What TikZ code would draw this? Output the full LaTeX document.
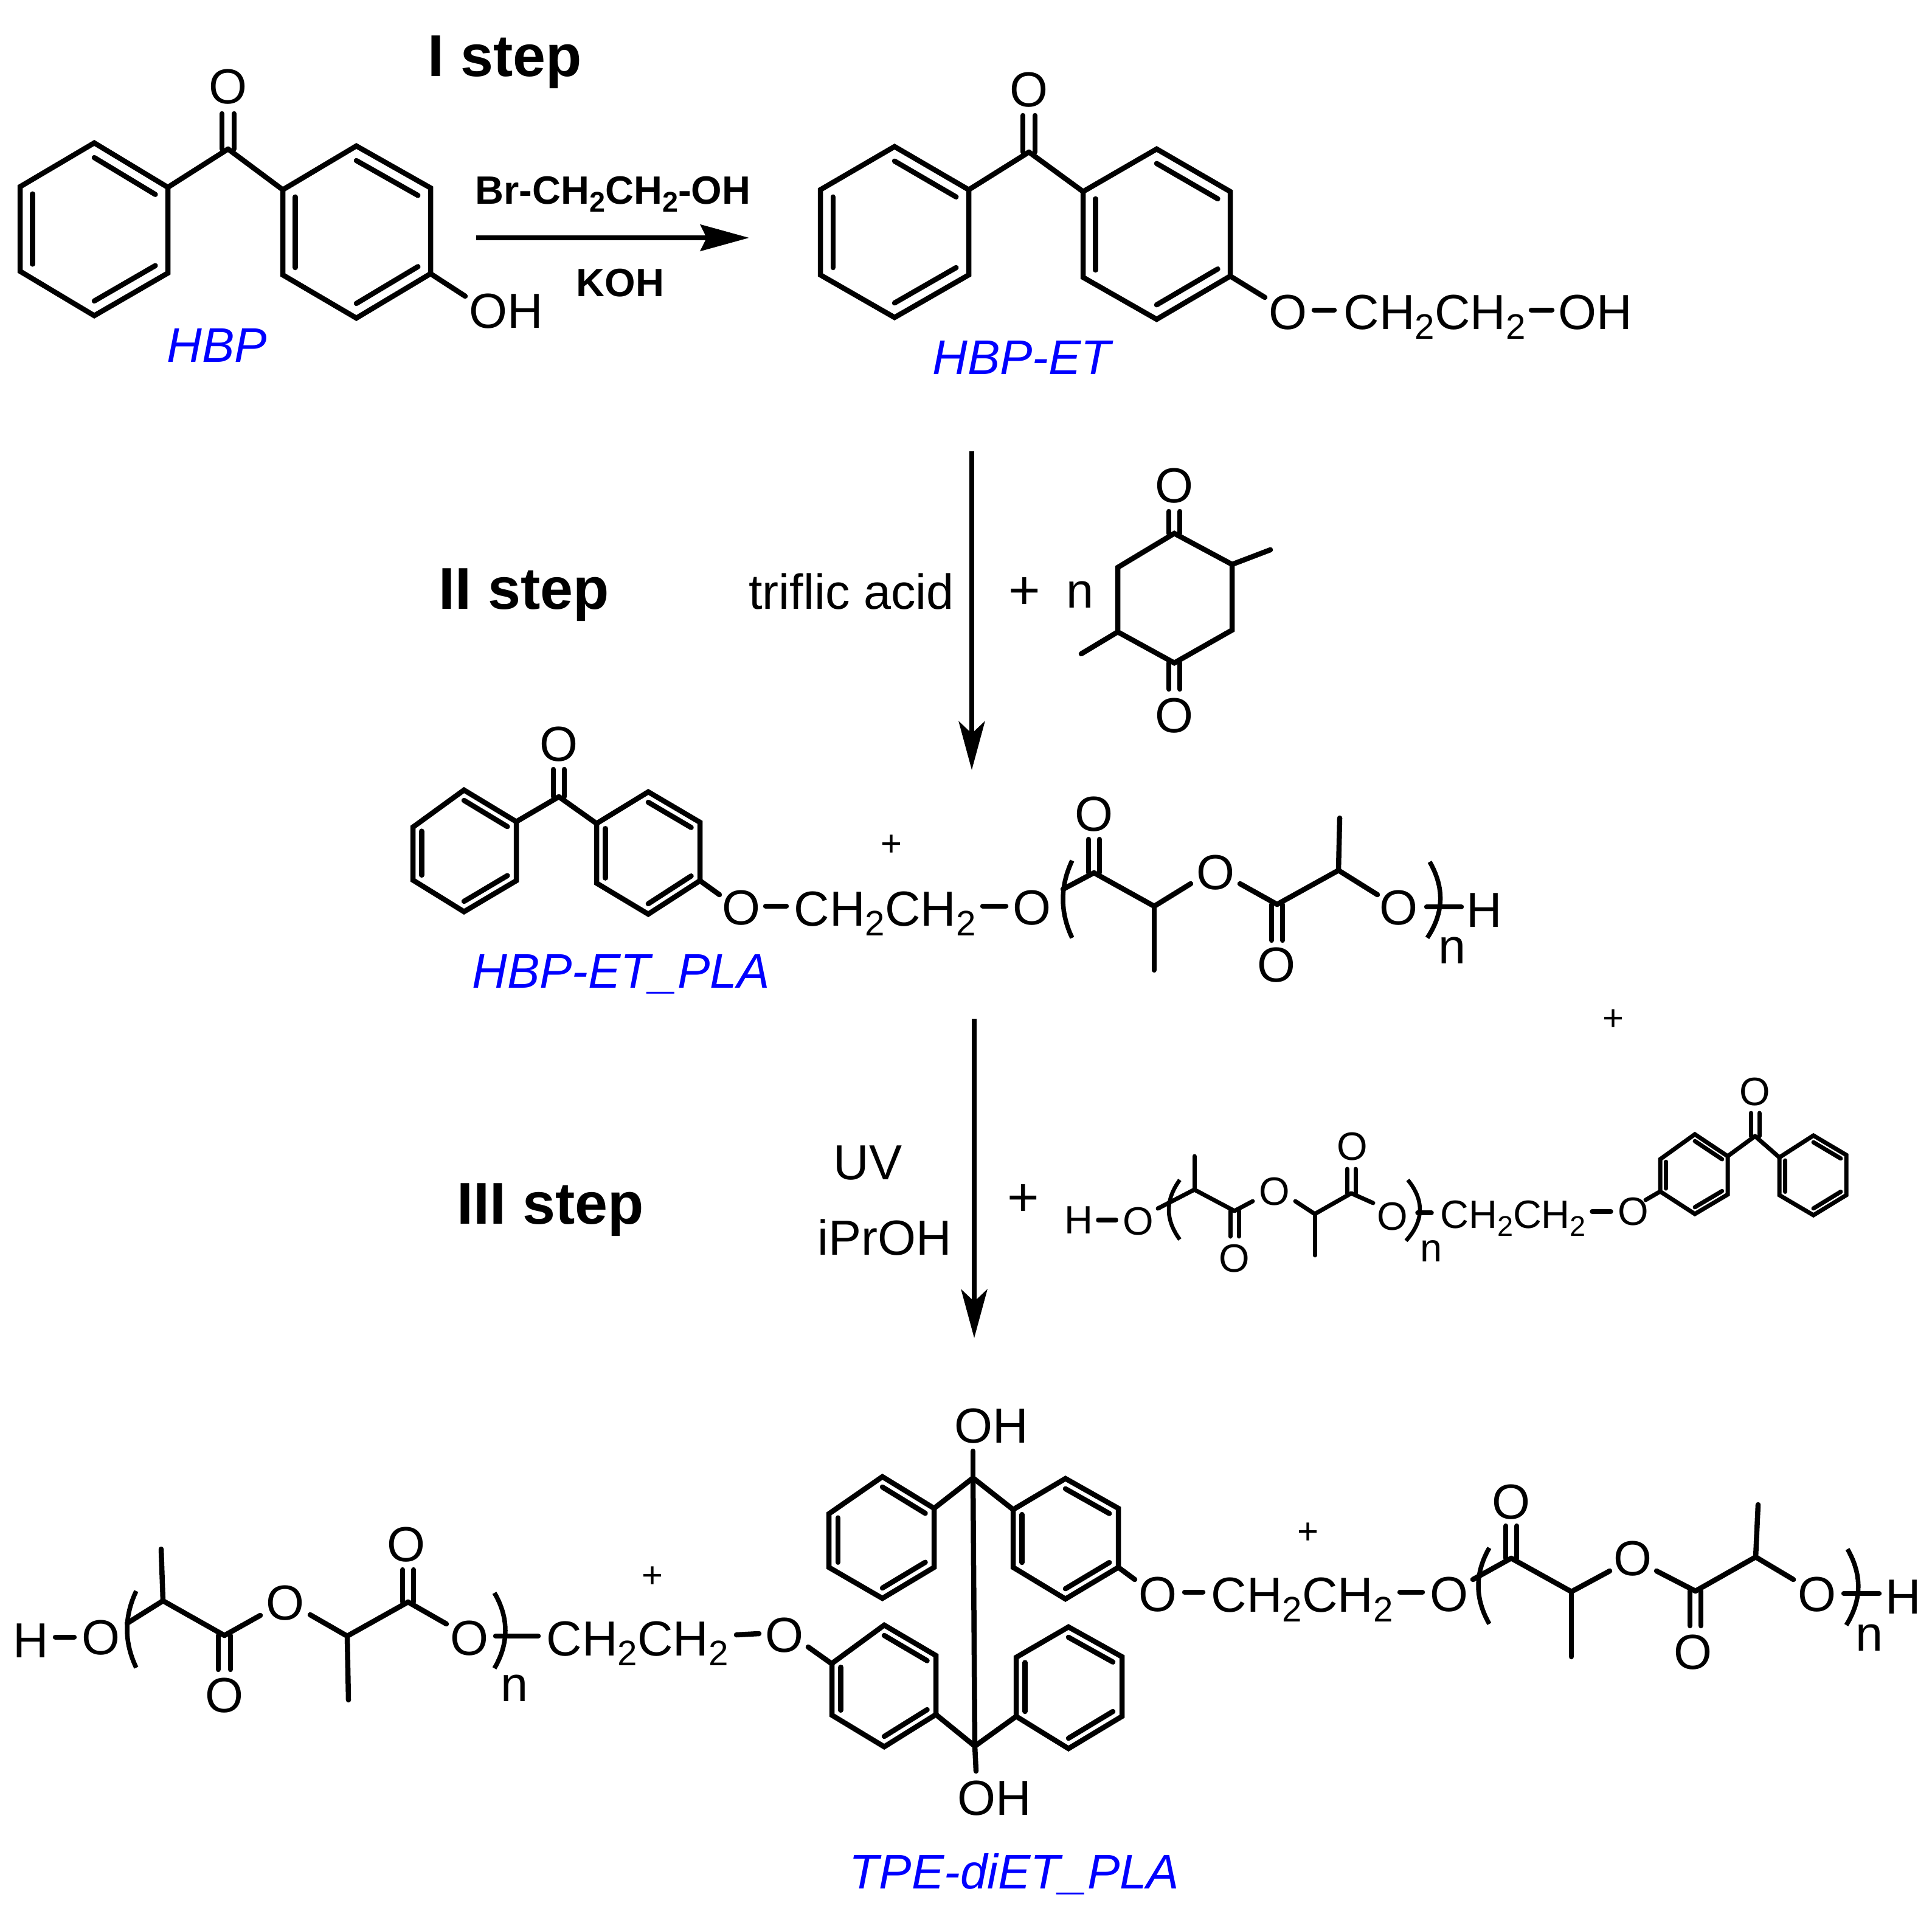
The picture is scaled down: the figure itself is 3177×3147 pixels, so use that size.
\documentclass[tikz,border=0pt]{standalone}
\usepackage{fontspec}
\setmainfont{Liberation Sans}
\usetikzlibrary{calc,arrows.meta}
\newcommand\subtwo{\raisebox{-.2em}{\scalebox{.72}{2}}}
\def\rk{.17}
% six ring vertices, double bonds on sides 1-2, 3-4, 5-6
\newcommand\benz[6]{%
  \coordinate (ra) at (#1); \coordinate (rb) at (#2); \coordinate (rc) at (#3);
  \coordinate (rd) at (#4); \coordinate (re) at (#5); \coordinate (rf) at (#6);
  \coordinate (rm) at ($(ra)!.5!(rd)$);
  \draw[ringbond] (ra)--(rb)--(rc)--(rd)--(re)--(rf)--cycle;
  \draw[bond] ($(ra)!\rk!(rm)$)--($(rb)!\rk!(rm)$);
  \draw[bond] ($(rc)!\rk!(rm)$)--($(rd)!\rk!(rm)$);
  \draw[bond] ($(re)!\rk!(rm)$)--($(rf)!\rk!(rm)$);
}
% double bond: ends #1 and #2, half spacing #3 in x
\newcommand\dbv[3]{%
  \draw[bond] ($(#1)+(-#3,0)$)--($(#2)+(-#3,0)$);
  \draw[bond] ($(#1)+(#3,0)$)--($(#2)+(#3,0)$);
}
\tikzset{
  bond/.style={line width=8.5pt,line cap=round,line join=round},
  ringbond/.style={bond,line join=miter},
  dashb/.style={line width=8.5pt,line cap=round},
  paren/.style={line width=7.5pt,line cap=butt},
  txt/.style={inner sep=0pt,font=\fontsize{81}{81}\selectfont},
  stxt/.style={inner sep=0pt,font=\fontsize{65}{65}\selectfont},
  basetxt/.style={txt,anchor=base},
  sbasetxt/.style={stxt,anchor=base},
  steplabel/.style={inner sep=0pt,anchor=base,font=\fontsize{97}{97}\selectfont\bfseries},
  reagent/.style={inner sep=0pt,anchor=base,font=\fontsize{65}{65}\selectfont\bfseries},
  cmpd/.style={inner sep=0pt,anchor=base,text={rgb,255:red,0;green,0;blue,255},font=\fontsize{80}{80}\selectfont\itshape},
  plusbig/.style={inner sep=0pt,font=\fontsize{90}{90}\selectfont},
  plussmall/.style={inner sep=0pt,font=\fontsize{60}{60}\selectfont},
  rxndown/.style={line width=7.5pt,-{Stealth[length=80pt,width=43pt,inset=20pt]}},
  rxnright/.style={line width=8.5pt,-{Stealth[length=80pt,width=43pt,inset=10pt]}},
}
\begin{document}
\begin{tikzpicture}[x=1pt,y=-1pt]
\useasboundingbox (0,0) rectangle (3177,3147);
\fill[white] (0,0) rectangle (3177,3147);

% ---- labels ----
\node[steplabel] (s1) at (830,126) {I step};
\node[steplabel] (s2) at (862,1001) {II step};
\node[steplabel] (s3) at (905,2012) {III step};

% ---- HBP ----
\benz{155,235}{276,308}{276,449}{155,519}{33,446}{33,307}
\benz{586,240}{708,309}{708,450}{586,523}{465,452}{465,312}
\draw[bond] (276,308)--(375,245)--(465,312);
\dbv{375,245}{375,187}{10}
\node[txt] (o1) at (375,143) {O};
\draw[bond] (708,450)--(765,487);
\node[txt] (oh1) at (832,512) {OH};
\node[cmpd] (hbp) at (357,595) {HBP};

% ---- step I arrow ----
\node[reagent] (brc) at (1008,335) {Br-CH\subtwo CH\subtwo-OH};
\coordinate (a1s) at (783,391);
\coordinate (a1e) at (1232,391);
\draw[rxnright] (a1s)--(a1e);
\node[reagent] (koh) at (1020,487) {KOH};

% ---- HBP-ET ----
\benz{1471,241}{1593,312}{1593,452}{1471,522}{1349,452}{1349,312}
\benz{1902,245}{2023,315}{2023,454}{1902,525}{1781,456}{1781,315}
\draw[bond] (1593,312)--(1692,250)--(1781,315);
\dbv{1692,250}{1692,190}{10}
\node[txt] (o2) at (1692,148) {O};
\draw[bond] (2023,454)--(2080,489);
\node[txt] (o2b) at (2118,514) {O};
\draw[dashb] (2161,510)--(2194,510);
\node[basetxt] (c2) at (2359,541) {CH\subtwo CH\subtwo};
\draw[dashb] (2518,510)--(2552,510);
\node[basetxt] (oh2) at (2623,541) {OH};
\node[cmpd] (hbpet) at (1680,615) {HBP-ET};

% ---- step II ----
\coordinate (a2s) at (1598,742);
\coordinate (a2e) at (1598,1266);
\draw[rxndown] (a2s)--(a2e);
\node[basetxt] (tfa) at (1400,1001) {triflic acid};
\node[plusbig] (p2) at (1685,976) {+};
\node[basetxt] (n2) at (1776,999) {n};
\draw[ringbond] (1931,877)--(2026,928)--(2026,1036)--(1931,1090)--(1838,1039)--(1838,933)--cycle;
\draw[bond] (2026,928)--(2089,904);
\draw[bond] (1838,1039)--(1778,1075);
\dbv{1931,877}{1931,841}{9}
\dbv{1931,1090}{1931,1133}{9}
\node[txt] (o3a) at (1931,799) {O};
\node[txt] (o3b) at (1931,1177) {O};

% ---- HBP-ET_PLA ----
\benz{763,1299}{849,1351}{849,1448}{763,1499}{679,1447}{679,1360}
\benz{1066,1302}{1151,1352}{1151,1448}{1066,1503}{981,1452}{981,1354}
\draw[bond] (849,1351)--(919,1310)--(981,1354);
\dbv{919,1310}{919,1265}{9}
\node[txt] (o4) at (919,1224) {O};
\draw[bond] (1151,1448)--(1183,1471);
\node[txt] (o4b) at (1219,1493) {O};
\draw[dashb] (1259,1490)--(1293,1490);
\node[basetxt] (c4) at (1455,1522) {CH\subtwo CH\subtwo};
\node[plussmall] (p4) at (1466,1390) {+};
\draw[dashb] (1616,1490)--(1654,1490);
\node[txt] (o4c) at (1697,1493) {O};
\draw[paren] (1763,1415) .. controls (1743,1457) and (1743,1500) .. (1763,1542);
\draw[bond] (1748,1462)--(1799,1435)--(1898,1490)--(1958,1453);
\dbv{1799,1435}{1799,1380}{9}
\node[txt] (o4d) at (1799,1339) {O};
\draw[bond] (1898,1490)--(1898,1595);
\node[txt] (o4e) at (1999,1435) {O};
\draw[bond] (2039,1453)--(2100,1487)--(2201,1431)--(2265,1471);
\dbv{2100,1487}{2100,1546}{9}
\node[txt] (o4f) at (2099,1587) {O};
\draw[bond] (2201,1431)--(2203,1345);
\node[txt] (o4g) at (2300,1493) {O};
\draw[paren] (2351,1417) .. controls (2375,1459) and (2375,1500) .. (2347,1542);
\draw[dashb] (2346,1491)--(2403,1491);
\node[basetxt] (h4) at (2441,1524) {H};
\node[basetxt] (n4) at (2388,1584) {n};
\node[cmpd] (hbpetpla) at (1021,1624) {HBP-ET\_PLA};

% ---- step III ----
\coordinate (a3s) at (1602,1675);
\coordinate (a3e) at (1602,2200);
\draw[rxndown] (a3s)--(a3e);
\node[basetxt] (uv) at (1427,1939) {UV};
\node[basetxt] (ipr) at (1455,2063) {iPrOH};
\node[plusbig] (p3) at (1683,1974) {+};
\node[plussmall] (p5) at (2653,1677) {+};

% ---- side product ----
\begin{scope}[bond/.append style={line width=7pt},dashb/.append style={line width=7.5pt},paren/.append style={line width=6.5pt}]
\node[sbasetxt] (h5) at (1774,2028) {H};
\draw[dashb] (1806,2006)--(1835,2006);
\node[stxt] (o5a) at (1872,2008) {O};
\draw[paren] (1940,1940) .. controls (1916,1973) and (1916,2005) .. (1940,2038);
\draw[bond] (1904,1987)--(1964,1956)--(2030,1991)--(2060,1975);
\draw[bond] (1964,1956)--(1964,1901);
\dbv{2030,1991}{2030,2033}{7}
\node[stxt] (o5b) at (2030,2069) {O};
\node[stxt] (o5c) at (2096,1959) {O};
\draw[bond] (2130,1975)--(2162,1996)--(2222,1962)--(2258,1978);
\draw[bond] (2162,1996)--(2162,2064);
\dbv{2222,1962}{2222,1922}{7}
\node[stxt] (o5d) at (2224,1885) {O};
\node[stxt] (o5e) at (2290,2000) {O};
\draw[paren] (2315,1940) .. controls (2342,1973) and (2342,2007) .. (2312,2040);
\draw[dashb] (2331,1994)--(2354,1994);
\node[sbasetxt] (n5) at (2354,2074) {n};
\node[sbasetxt] (c5) at (2488,2019) {CH\subtwo CH\subtwo};
\draw[dashb] (2618,1992)--(2649,1992);
\node[stxt] (o5f) at (2686,1992) {O};
\draw[bond] (2706,1973)--(2730,1959);
\benz{2787,1865}{2841,1901}{2841,1964}{2787,1996}{2730,1959}{2730,1906}
\benz{2982,1867}{3036,1899}{3036,1965}{2982,1998}{2926,1965}{2926,1903}
\draw[bond] (2841,1901)--(2886,1868)--(2926,1903);
\dbv{2886,1868}{2886,1830}{7}
\node[stxt] (o5g) at (2886,1795) {O};
\end{scope}

% ---- TPE-diET_PLA ----
\node[basetxt] (h6) at (51,2725) {H};
\draw[dashb] (91,2692)--(122,2692);
\node[txt] (o6a) at (166,2693) {O};
\draw[paren] (224,2616) .. controls (204,2658) and (204,2700) .. (224,2742);
\draw[bond] (209,2669)--(268,2632)--(369,2689)--(428,2656);
\draw[bond] (268,2632)--(265,2547);
\dbv{369,2689}{369,2745}{10}
\node[txt] (o6b) at (369,2788) {O};
\node[txt] (o6c) at (469,2636) {O};
\draw[bond] (510,2655)--(571,2690)--(671,2634)--(734,2670);
\draw[bond] (571,2690)--(573,2795);
\dbv{671,2634}{671,2581}{9}
\node[txt] (o6d) at (668,2540) {O};
\node[txt] (o6e) at (772,2694) {O};
\draw[paren] (813,2619) .. controls (837,2660) and (837,2702) .. (813,2743);
\draw[dashb] (815,2690)--(885,2690);
\node[basetxt] (n6) at (846,2797) {n};
\node[basetxt] (c6) at (1048,2722) {CH\subtwo CH\subtwo};
\node[plussmall] (p6) at (1073,2593) {+};
\draw[dashb] (1211,2688)--(1248,2686);
\node[txt] (o6f) at (1290,2689) {O};
\draw[bond] (1329,2708)--(1367,2735);
\benz{1454,2672}{1539,2722}{1539,2819}{1454,2872}{1368,2820}{1368,2735}
\benz{1757,2675}{1845,2724}{1845,2822}{1757,2875}{1671,2822}{1671,2725}
\draw[bond] (1539,2819)--(1603,2871)--(1671,2822);
\draw[bond] (1603,2871)--(1605,2912);
\node[basetxt] (oh6b) at (1635,2984) {OH};
\draw[bond] (1600,2430)--(1603,2871);
\benz{1451,2428}{1536,2480}{1536,2577}{1451,2628}{1363,2577}{1363,2489}
\benz{1752,2431}{1839,2480}{1839,2577}{1752,2629}{1666,2577}{1666,2482}
\draw[bond] (1536,2480)--(1600,2430)--(1666,2482);
\draw[bond] (1600,2430)--(1600,2386);
\node[basetxt] (oh6a) at (1630,2372) {OH};
\draw[bond] (1839,2577)--(1866,2597);
\node[txt] (o6g) at (1904,2622) {O};
\draw[dashb] (1948,2618)--(1978,2618);
\node[basetxt] (c7) at (2141,2650) {CH\subtwo CH\subtwo};
\node[plussmall] (p7) at (2151,2521) {+};
\draw[dashb] (2302,2618)--(2339,2618);
\node[txt] (o6h) at (2383,2622) {O};
\draw[paren] (2449,2545) .. controls (2425,2587) and (2425,2628) .. (2449,2670);
\draw[bond] (2422,2597)--(2485,2562)--(2584,2617)--(2647,2583);
\dbv{2485,2562}{2485,2509}{9}
\node[txt] (o6i) at (2485,2470) {O};
\draw[bond] (2584,2617)--(2584,2724);
\node[txt] (o6j) at (2685,2563) {O};
\draw[bond] (2724,2583)--(2788,2616)--(2887,2560)--(2949,2597);
\dbv{2788,2616}{2788,2673}{9}
\node[txt] (o6k) at (2784,2717) {O};
\draw[bond] (2887,2560)--(2891,2474);
\node[txt] (o6l) at (2988,2622) {O};
\draw[paren] (3038,2547) .. controls (3062,2589) and (3062,2630) .. (3036,2672);
\draw[dashb] (3032,2620)--(3090,2620);
\node[basetxt] (h7) at (3130,2653) {H};
\node[basetxt] (n7) at (3074,2714) {n};
\node[cmpd] (tpe) at (1668,3105) {TPE-diET\_PLA};
\end{tikzpicture}
\end{document}
